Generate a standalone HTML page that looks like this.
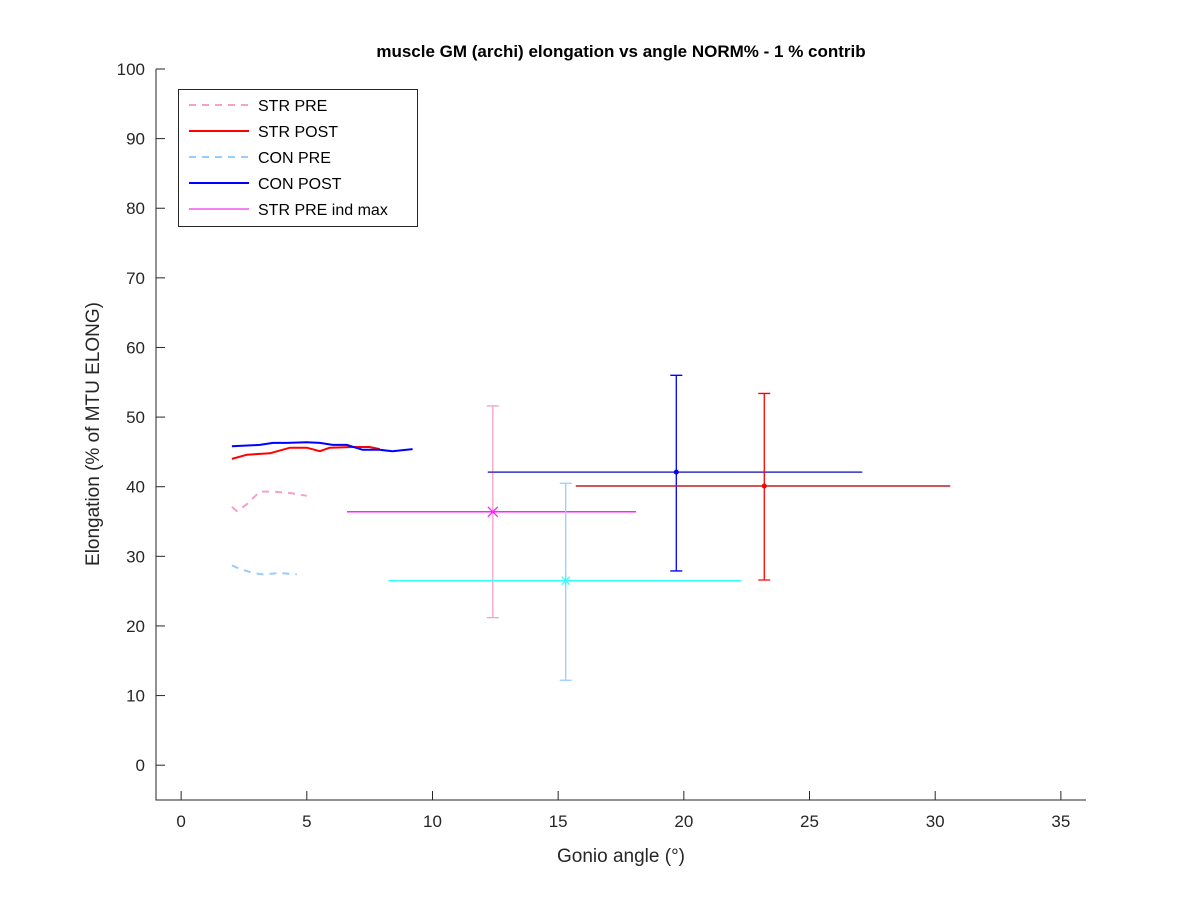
<!DOCTYPE html>
<html><head><meta charset="utf-8"><style>
body{margin:0;background:#fff;}
svg text{font-family:"Liberation Sans",Arial,sans-serif;}
</style></head><body>
<svg id="chart" width="1200" height="900" xmlns="http://www.w3.org/2000/svg">
<rect width="1200" height="900" fill="#fff"/>
<g id="plot"></g>
</svg>
<script>
const xTicks=[0,5,10,15,20,25,30,35];
const yTicks=[0,10,20,30,40,50,60,70,80,90,100];
const strPreX=[2.02,2.22,2.62,3.13,3.65,4.33,5.0];
const strPreY=[37.1,36.5,37.5,39.3,39.3,39.1,38.7];
const strPostX=[2.02,2.62,3.53,4.33,5.0,5.52,5.91,6.83,7.5,7.9];
const strPostY=[44.0,44.6,44.8,45.6,45.6,45.1,45.6,45.7,45.7,45.4];
const conPreX=[2.02,2.34,2.86,3.25,3.93,4.6];
const conPreY=[28.7,28.2,27.6,27.4,27.6,27.4];
const conPostX=[2.02,3.13,3.65,4.21,5.0,5.52,6.03,6.59,7.22,7.9,8.41,9.21];
const conPostY=[45.8,46.0,46.3,46.3,46.4,46.3,46.0,46.0,45.3,45.3,45.1,45.4];
const sumX=[12.4,15.3,19.7,23.2];
const sumY=[36.4,26.5,42.1,40.1];
const sumXmin=[6.6,8.25,12.2,15.7];
const sumXmax=[18.1,22.3,27.1,30.6];
const sumYmin=[21.2,12.2,27.9,26.6];
const sumYmax=[51.6,40.5,56.0,53.4];
const hColors=['#ff22ff','#33ffff','#3333cc','#bb2222'];
const vColors=['#f5a0c8','#99ccff','#0000ff','#ff0000'];
const markers=['x','star','dot','dot'];

const L=156,R=1086,T=69,B=800,X0=-1,X1=36,Y0=-5,Y1=100;
const sx=v=>L+(v-X0)/(X1-X0)*(R-L);
const sy=v=>B-(v-Y0)/(Y1-Y0)*(B-T);
const NS='http://www.w3.org/2000/svg';
const g=document.getElementById('plot');
function mk(tag,attrs,parent){const e=document.createElementNS(NS,tag);for(const k in attrs)e.setAttribute(k,attrs[k]);(parent||g).appendChild(e);return e;}

const ax=mk('path',{d:`M${L},${T}V${B}H${R}`,fill:'none',stroke:'#262626','stroke-width':1});


xTicks.forEach(t=>{
  const x=sx(t);
  const tk=mk('line',{x1:x,x2:x,y1:B,y2:B-9,stroke:'#262626'});
  
  
  const tx=mk('text',{x:x,y:B+27,'text-anchor':'middle','font-size':17,fill:'#262626'});
  tx.textContent=t;
  
  
});
yTicks.forEach(t=>{
  const y=sy(t);
  const tk=mk('line',{x1:L,x2:L+9,y1:y,y2:y,stroke:'#262626'});
  
  
  const tx=mk('text',{x:L-11,y:y+6,'text-anchor':'end','font-size':17,fill:'#262626'});
  tx.textContent=t;
  
  
});
const ttl=mk('text',{x:621,y:57,'text-anchor':'middle','font-size':17,'font-weight':'bold',fill:'#000'});
ttl.textContent='muscle GM (archi) elongation vs angle NORM% - 1 % contrib';


const xl=mk('text',{x:621,y:862,'text-anchor':'middle','font-size':19,fill:'#262626'});
xl.textContent='Gonio angle (°)';


const yl=mk('text',{x:0,y:0,'text-anchor':'middle','font-size':19,fill:'#262626',transform:'translate(99,434) rotate(-90)'});
yl.textContent='Elongation (% of MTU ELONG)';



sumX.forEach((v,i)=>{
  const cx=sx(v),cy=sy(sumY[i]);
  const h=mk('line',{x1:sx(sumXmin[i]),x2:sx(sumXmax[i]),y1:cy,y2:cy,stroke:hColors[i],'stroke-width':1.5});
  
  
  const y1=sy(sumYmin[i]),y2=sy(sumYmax[i]);
  const vv=mk('path',{d:`M${cx},${y1}V${y2}M${cx-6},${y1}H${cx+6}M${cx-6},${y2}H${cx+6}`,stroke:vColors[i],fill:'none','stroke-width':1.3});
  
  
  let m;
  if(markers[i]==='x') m=mk('path',{d:`M${cx-5},${cy-5}L${cx+5},${cy+5}M${cx-5},${cy+5}L${cx+5},${cy-5}`,stroke:hColors[i],'stroke-width':1.3});
  else if(markers[i]==='star') m=mk('path',{d:`M${cx-6},${cy}H${cx+6}M${cx},${cy-6}V${cy+6}M${cx-4},${cy-4}L${cx+4},${cy+4}M${cx-4},${cy+4}L${cx+4},${cy-4}`,stroke:hColors[i],'stroke-width':1.3});
  else m=mk('circle',{cx:cx,cy:cy,r:2.5,fill:vColors[i]});
  
  
});

function curve(xs,ys,color,dash,name){
  const d=xs.map((v,i)=>(i?'L':'M')+sx(v).toFixed(1)+','+sy(ys[i]).toFixed(1)).join('');
  const p=mk('path',{d:d,fill:'none',stroke:color,'stroke-width':2,'stroke-dasharray':dash||'none'});
  
  
}
curve(strPreX,strPreY,'#f5a0c8','7,6','str-pre-line');
curve(conPreX,conPreY,'#99ccff','7,6','con-pre-line');
curve(strPostX,strPostY,'#ff0000','','str-post-line');
curve(conPostX,conPostY,'#0000ff','','con-post-line');

const lg=mk('g',{});


mk('rect',{x:178.5,y:89.5,width:239,height:137,fill:'#fff',stroke:'#262626'},lg);
const legLabels=['STR PRE','STR POST','CON PRE','CON POST','STR PRE ind max'];
const legColors=['#f5a0c8','#ff0000','#99ccff','#0000ff','#ee00ee'];
const legDash=['7,6','','7,6','',''];
const legW=[2,2,2,2,1];
legLabels.forEach((t,i)=>{
  const y=105+i*26;
  const ln=mk('line',{x1:189,x2:249,y1:y,y2:y,stroke:legColors[i],'stroke-width':legW[i],'stroke-dasharray':legDash[i]||'none'},lg);
  
  
  const tx=mk('text',{x:258,y:y+6,'font-size':16,fill:'#000'},lg);
  tx.textContent=t;
  
  
});
</script>
</body></html>
